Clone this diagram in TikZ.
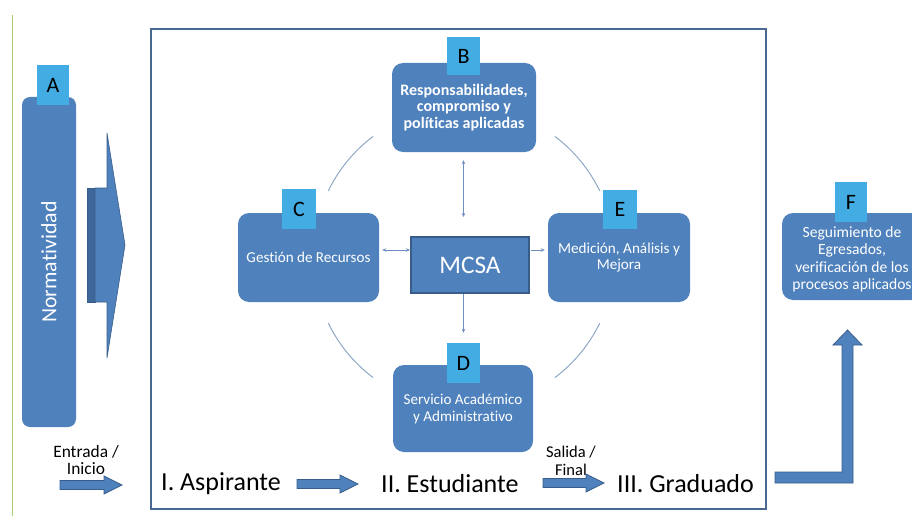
\documentclass[tikz,border=0pt]{standalone}
\usepackage{fontspec}
\setmainfont[Ligatures=NoCommon]{Carlito}
\usetikzlibrary{calc,arrows.meta}
\definecolor{boxblue}{HTML}{4F81BD}
\definecolor{boxedge}{HTML}{385D8A}
\definecolor{sidedark}{HTML}{3E6699}
\definecolor{lblue}{HTML}{43ADE3}
\definecolor{frameblue}{HTML}{4A6890}
\definecolor{arcblue}{HTML}{8EA8C8}
\definecolor{connblue}{HTML}{6D8EBF}
\definecolor{lgreen}{HTML}{A6CE6B}
\newcommand\fs[2]{\fontsize{#1}{#2}\selectfont}
\newcommand\barrowpoly[3]{% x1 x2 yc
  \filldraw[blockarr] (#1,#3-4.5) -- (#2-18,#3-4.5) -- (#2-18,#3-9) -- (#2,#3) -- (#2-18,#3+9) -- (#2-18,#3+4.5) -- (#1,#3+4.5) -- cycle;}
\begin{document}
\begin{tikzpicture}[x=1pt,y=-1pt,
  rbox/.style={rectangle, rounded corners=11pt, fill=boxblue, text=white, align=center, inner sep=0pt},
  lab/.style={rectangle, fill=lblue, text=black, inner sep=0pt, font=\fs{22}{22}},
  conn/.style={draw=connblue, line width=0.8pt, arrows={-Stealth[length=4pt,width=3.5pt]}},
  arcline/.style={draw=arcblue, line width=1pt},
  blockarr/.style={fill=boxblue, draw=boxedge, line width=0.8pt, line join=miter},
  big/.style={font=\fs{26}{28}, text=black, inner sep=0pt},
  small/.style={text=black, align=center, inner sep=0pt}
]
\useasboundingbox (0,0) rectangle (912,516);
% green line
\draw[lgreen, line width=1pt] (12,15) -- (12,516);
% main frame
\draw[frameblue, line width=2.5pt] (151,29) rectangle (766,509);

% A bar
\node[rbox, rounded corners=8pt, minimum width=54pt, minimum height=330pt] (A) at (49,262) {};
\node[lab, minimum width=32pt, minimum height=40pt] (Alab) at (53,85) {A};
\node[rotate=90, text=white, font=\fs{21.8}{22}, inner sep=0pt] (Atxt) at (A.center) {Normatividad};

% big arrow
\fill[sidedark, draw=boxedge, line width=0.6pt] (87,188) -- (95,188) -- (95,302) -- (87,302) -- cycle;
\filldraw[blockarr, line width=0.6pt] (95,188) -- (107,188) -- (107,133) -- (125,245) -- (107,358) -- (107,302) -- (95,302) -- cycle;

% circle arcs
\draw[arcline] plot[domain=206:233, samples=25] ({464+151*cos(\x)},{257+151*sin(\x)});
\draw[arcline] plot[domain=307:334, samples=25] ({464+151*cos(\x)},{257+151*sin(\x)});
\draw[arcline] plot[domain=26:53, samples=25] ({464+151*cos(\x)},{257+151*sin(\x)});
\draw[arcline] plot[domain=127:154, samples=25] ({464+151*cos(\x)},{257+151*sin(\x)});

% B
\node[rbox, minimum width=144pt, minimum height=89pt, font=\bfseries\fs{16}{16.5}] (B) at (464,107.5) {Responsabilidades,\\compromiso y\\políticas aplicadas};
\node[lab, minimum width=33pt, minimum height=38pt] (Blab) at (463.5,56) {B};
% C
\node[rbox, minimum width=141pt, minimum height=89pt, font=\fs{15.1}{17}] (C) at (308.5,257.5) {Gestión de Recursos};
\node[lab, minimum width=34pt, minimum height=40pt] (Clab) at (299,209) {C};
% E
\node[rbox, minimum width=142pt, minimum height=89pt, font=\fs{15.2}{16.5}] (E) at (619,257.5) {Medición, Análisis y\\Mejora};
\node[lab, minimum width=34pt, minimum height=39pt] (Elab) at (620,209.5) {E};
% D
\node[rbox, minimum width=140pt, minimum height=87pt, font=\fs{15.1}{17}] (D) at (463,408.5) {Servicio Académico\\y Administrativo};
\node[lab, minimum width=33pt, minimum height=40pt] (Dlab) at (463.5,363) {D};
% F
\node[rbox, minimum width=140pt, minimum height=87pt] (F) at (852,256.5) {};
\node[text=white, align=center, font=\fs{15.6}{17.5}, inner sep=0pt] (Ftxt) at (852,259.5) {Seguimiento de\\Egresados,\\verificación de los\\procesos aplicados};
\node[lab, minimum width=32pt, minimum height=40pt] (Flab) at (851,202) {F};

% MCSA
\node[rectangle, fill=boxblue, draw=boxedge, line width=2pt, minimum width=118pt, minimum height=56pt, text=white, font=\fs{25.3}{25}, inner sep=0pt] (M) at (470,265) {MCSA};

% connectors
\draw[conn, arrows={Stealth[length=4pt,width=3.5pt]-Stealth[length=4pt,width=3.5pt]}, shorten <=8pt, shorten >=19pt] (Blab.center |- B.south) -- (Blab.center |- M.north);
\draw[conn, shorten >=10pt] (Dlab.north |- M.south) -- (Dlab.north);
\draw[conn, arrows={Stealth[length=4pt,width=3.5pt]-Stealth[length=4pt,width=3.5pt]}, shorten <=3pt] ([yshift=7.5pt]C.east) -- ([yshift=15pt]M.west);
\draw[conn, shorten <=1pt, shorten >=3pt] ([yshift=15pt]M.east) -- ([yshift=7.5pt]E.west);

% bottom row
\node[small, font=\fs{17.4}{17}] (entr) at (86,460) {Entrada /\\Inicio};
\node[big, anchor=west] (asp) at (161,484) {I. Aspirante};
\node[big, anchor=west] (est) at (381,484) {II. Estudiante};
\node[big, anchor=west] (grad) at (617,484) {III. Graduado};
\node[small, font=\fs{16.5}{18}] (sal) at (571,461) {Salida /\\Final};
\barrowpoly{60}{122}{485}
\barrowpoly{297}{358}{484}
\barrowpoly{543}{604}{483}

% bent arrow to F
\filldraw[blockarr] (775,472) -- (842,472) -- (842,345) -- (833,345) -- (847.5,330) -- (862,345) -- (853,345) -- (853,483) -- (775,483) -- cycle;
\end{tikzpicture}
\end{document}
